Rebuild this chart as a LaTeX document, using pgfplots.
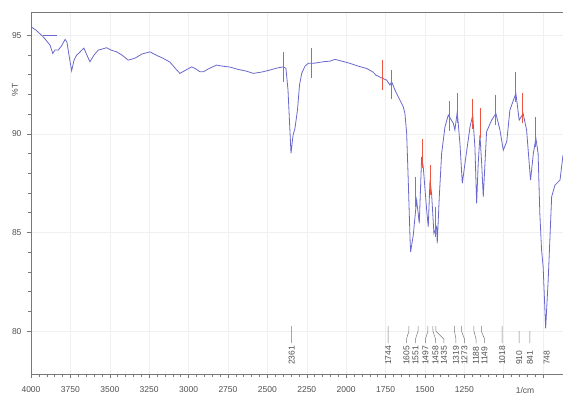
\documentclass[border=0pt]{standalone}
\usepackage{pgfplots}
\pgfplotsset{compat=1.18}
\usepackage{fontspec}
\setmainfont{Liberation Sans}
\definecolor{spec}{RGB}{105,105,205}
\definecolor{pk}{RGB}{235,85,65}
\definecolor{txt}{RGB}{80,80,80}
\definecolor{frm}{RGB}{120,120,120}
\begin{document}
\begin{tikzpicture}
\begin{axis}[
  at={(0,0)}, anchor=south west,
  scale only axis, width=532pt, height=362pt,
  x dir=reverse, xmin=624, xmax=4000, ymin=77.83, ymax=96.17,
  axis x line=box, axis y line=left,
  axis line style={-, draw=frm, line width=0.6pt},
  xtick={750,1000,1250,1500,1750,2000,2250,2500,2750,3000,3250,3500,3750,4000},
  xticklabels={,,1250,1500,1750,2000,2250,2500,2750,3000,3250,3500,3750,4000},
  ytick={80,85,90,95},
  yticklabels={80,85,90,95},
  minor x tick num=4, minor y tick num=4,
  xtick pos=bottom, ytick pos=left,
  tick align=outside, major tick length=4pt, minor tick length=3pt,
  tick style={draw=frm, line width=0.5pt},
  xmajorgrids, ymajorgrids, grid style={draw=gray!12, line width=0.5pt},
  ticklabel style={font=\fontsize{8.5}{9}\selectfont, text=txt},
  xticklabel style={yshift=-5pt},
  yticklabel style={xshift=-2pt},
  clip=false,
]
\coordinate (sw) at (rel axis cs:0,0);
\coordinate (ne) at (rel axis cs:1,1);
\addplot[spec, line width=0.8pt] coordinates {
(4000,95.42) (3968,95.25) (3922,94.91) (3879,94.49) (3862,94.07) (3848,94.24) (3827,94.24)
(3803,94.49) (3784,94.78) (3772,94.65) (3759,93.99) (3742,93.19) (3727,93.73) (3710,93.99)
(3695,94.09) (3678,94.24) (3664,94.34) (3651,94.09) (3626,93.65) (3600,93.99) (3573,94.24)
(3550,94.29) (3520,94.36) (3492,94.24) (3456,94.15) (3423,93.99) (3383,93.73) (3340,93.83)
(3296,94.04) (3245,94.15) (3207,93.99) (3161,93.82) (3118,93.63) (3086,93.33) (3055,93.06)
(3017,93.23) (2980,93.39) (2953,93.28) (2928,93.14) (2907,93.14) (2864,93.33) (2822,93.48)
(2788,93.43) (2737,93.38) (2685,93.26) (2636,93.18) (2589,93.06) (2534,93.13) (2483,93.23)
(2439,93.33) (2399,93.39) (2382,93.31) (2369,92.21) (2360,90.69) (2350,89.01) (2337,89.93)
(2325,90.27) (2309,91.2) (2296,92.47) (2282,93.06) (2261,93.43) (2240,93.57) (2198,93.58)
(2145,93.65) (2103,93.68) (2071,93.77) (2027,93.68) (1976,93.57) (1925,93.43) (1870,93.31)
(1830,93.13) (1811,92.97) (1773,92.82) (1743,92.72) (1722,92.47) (1711,92.63) (1690,92.21)
(1659,91.71) (1638,91.37) (1627,91.03) (1616,90.02) (1606,87.65) (1595,84.78) (1591,84.02)
(1574,84.87) (1557,86.3) (1553,86.64) (1543,85.97) (1536,85.46) (1521,88.83) (1511,88.33)
(1489,86.13) (1479,85.29) (1468,87.65) (1458,86.98) (1443,84.95) (1426,85.29) (1422,84.45)
(1409,86.81) (1394,89.01) (1373,90.35) (1352,90.95) (1320,90.53) (1310,90.19) (1295,91.11)
(1278,89.51) (1263,87.49) (1246,88.5) (1214,90.35) (1197,90.95) (1183,89.34) (1172,86.47)
(1162,88.5) (1151,89.93) (1140,88.5) (1130,86.81) (1119,88.5) (1109,90.1) (1077,90.69)
(1050,91.03) (1024,90.19) (1003,89.17) (981,89.6) (961,91.2) (923,92.05) (902,90.69)
(877,91.03) (855,90.19) (830,87.65) (812,89.01) (796,89.77) (782,89.01) (771,85.97)
(760,84.11) (750,83.26) (734,80.14) (718,82.59) (696,86.81) (675,87.4) (643,87.65) (624,88.92)
};
\addplot[spec, line width=0.8pt] coordinates {(3924,95) (3835,95)};
% peak markers
\addplot[pk, line width=1pt, unbounded coords=jump] coordinates {
(2395,92.64) (2395,94.14) (2395,nan)
(2219,92.85) (2219,94.35) (2219,nan)
(1771,92.22) (1771,93.72) (1771,nan)
(1711,91.75) (1711,93.25) (1711,nan)
(1557,86.3) (1557,87.8) (1557,nan)
(1517,88.25) (1517,89.75) (1517,nan)
(1464,86.9) (1464,88.4) (1464,nan)
(1430,84.78) (1430,86.28) (1430,nan)
(1346,90.15) (1346,91.65) (1346,nan)
(1293,90.55) (1293,92.05) (1293,nan)
(1197,90.25) (1197,91.75) (1197,nan)
(1147,89.79) (1147,91.29) (1147,nan)
(1050,90.45) (1050,91.95) (1050,nan)
(923,91.62) (923,93.12) (923,nan)
(880,90.55) (880,92.05) (880,nan)
(796,89.34) (796,90.84) (796,nan)
};
% connectors
\addplot[frm, line width=0.5pt, unbounded coords=jump] coordinates {
(2346,80.26) (2346,79.4) (2346,nan)
(1733,80.26) (1733,79.4) (1733,nan)
(1602,80.26) (1602,80.0) (1617,79.6) (1617,79.4) (1617,nan)
(1544,80.26) (1544,80.0) (1560,79.6) (1560,79.4) (1560,nan)
(1481,80.26) (1481,80.0) (1497,79.6) (1497,79.4) (1497,nan)
(1449,80.26) (1449,80.0) (1433,79.6) (1433,79.4) (1433,nan)
(1430,80.26) (1430,80.0) (1380,79.6) (1380,79.4) (1380,nan)
(1313,80.26) (1313,80.0) (1303,79.6) (1303,79.4) (1303,nan)
(1268,80.26) (1268,80.0) (1249,79.6) (1249,79.4) (1249,nan)
(1189,80.26) (1189,80.0) (1176,79.6) (1176,79.4) (1176,nan)
(1142,80.26) (1142,80.0) (1122,79.6) (1122,79.4) (1122,nan)
(1010,80.26) (1010,79.4) (1010,nan)
(902,80.0) (902,79.4) (902,nan)
(834,80.0) (834,79.4) (834,nan)
};
\begin{scope}[every node/.style={rotate=90, anchor=west, inner sep=0pt, font=\fontsize{8.5}{9}\selectfont, text=txt}]
\node at (axis cs:2346,78.28) {2361};
\node at (axis cs:1733,78.28) {1744};
\node at (axis cs:1617,78.28) {1605};
\node at (axis cs:1560,78.28) {1551};
\node at (axis cs:1497,78.28) {1497};
\node at (axis cs:1433,78.28) {1458};
\node at (axis cs:1380,78.28) {1435};
\node at (axis cs:1303,78.28) {1319};
\node at (axis cs:1249,78.28) {1273};
\node at (axis cs:1176,78.28) {1188};
\node at (axis cs:1122,78.28) {1149};
\node at (axis cs:1010,78.28) {1018};
\node at (axis cs:902,78.28) {910};
\node at (axis cs:834,78.28) {841};
\node at (axis cs:728,78.28) {748};
\end{scope}
\coordinate (ylab) at (rel axis cs:0,0.785);
\coordinate (cm) at (axis cs:865,77.83);
\end{axis}
\node[rotate=90, font=\fontsize{8.5}{9}\selectfont, text=txt] at ([xshift=-16pt]ylab) {\%T};
\node[anchor=north, inner sep=0pt, font=\fontsize{8.5}{9}\selectfont, text=txt] at ([yshift=-13pt]cm) {1/cm};
\pgfresetboundingbox
\path[use as bounding box] ([shift={(-31pt,-22pt)}]sw) rectangle ([shift={(0pt,12pt)}]ne);
\end{tikzpicture}
\end{document}
